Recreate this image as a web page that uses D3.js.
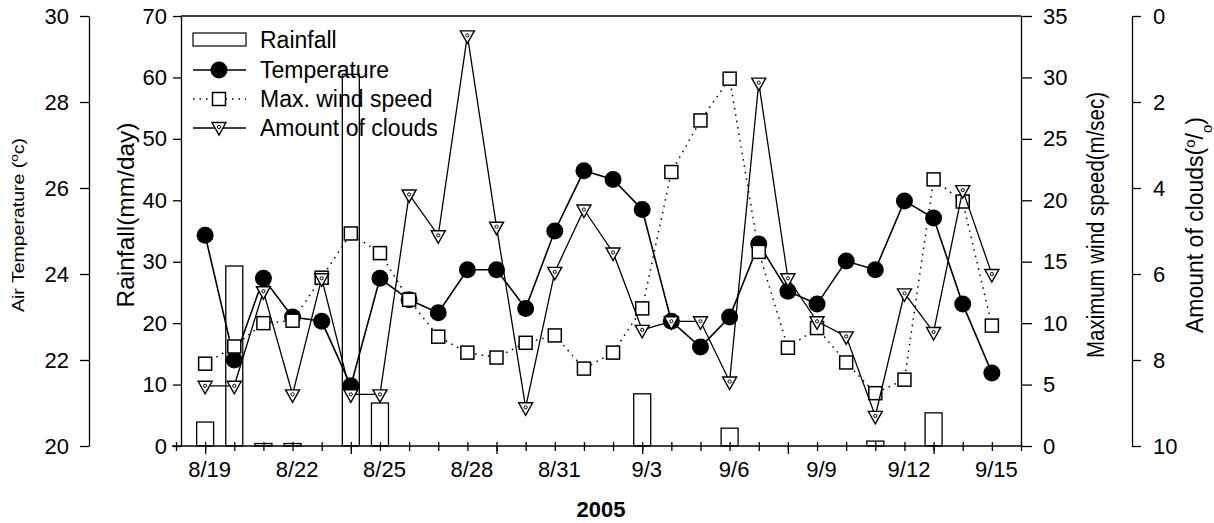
<!DOCTYPE html>
<html>
<head>
<meta charset="utf-8">
<script src="https://d3js.org/d3.v7.min.js"></script>
<style>
  body { margin: 0; background: #fff; }
  svg { font-family: "Liberation Sans", Arial, sans-serif; }
  .axis path, .axis line { stroke: #000; stroke-width: 1.3; }
  .axis text { fill: #000; font-size: 22px; font-family: "Liberation Sans", Arial, sans-serif; }
</style>
</head>
<body>
<svg width="1214" height="523"></svg>
<script>
var dates = ["8/19","8/20","8/21","8/22","8/23","8/24","8/25","8/26","8/27","8/28","8/29","8/30","8/31",
             "9/1","9/2","9/3","9/4","9/5","9/6","9/7","9/8","9/9","9/10","9/11","9/12","9/13","9/14","9/15"];

var rainfall = [3.9, 29.3, 0.4, 0.4, 0, 60.5, 7.0, 0, 0, 0, 0, 0, 0, 0,
                0, 8.5, 0, 0, 2.9, 0, 0, 0, 0, 0.8, 0, 5.4, 0, 0];

var temperature = [24.9, 22.0, 23.9, 23.0, 22.9, 21.4, 23.9, 23.4, 23.1, 24.1, 24.1, 23.2, 25.0, 26.4,
                   26.2, 25.5, 22.9, 22.3, 23.0, 24.7, 23.6, 23.3, 24.3, 24.1, 25.7, 25.3, 23.3, 21.7];

var windSpeed = [6.7, 8.1, 10.0, 10.2, 13.7, 17.3, 15.7, 11.9, 8.9, 7.6, 7.2, 8.4, 9.0, 6.3,
                 7.6, 11.2, 22.3, 26.5, 29.9, 15.8, 8.0, 9.6, 6.8, 4.3, 5.4, 21.7, 19.9, 9.8];

var clouds = [8.6, 8.6, 6.4, 8.8, 6.1, 8.8, 8.8, 4.15, 5.1, 0.45, 4.9, 9.1, 5.95, 4.5,
              5.5, 7.3, 7.1, 7.1, 8.5, 1.55, 6.1, 7.1, 7.45, 9.3, 6.45, 7.35, 4.05, 6.0];

var dateLabels = ["8/19","8/22","8/25","8/28","8/31","9/3","9/6","9/9","9/12","9/15"];
var majorDates = ["8/19","8/24","8/29","9/3","9/8","9/13"];

var rainTicks = [0, 10, 20, 30, 40, 50, 60, 70];
var tempTicks = [20, 22, 24, 26, 28, 30];
var windTicks = [0, 5, 10, 15, 20, 25, 30, 35];
var cloudTicks = [0, 2, 4, 6, 8, 10];

var legendItems = ["Rainfall", "Temperature", "Max. wind speed", "Amount of clouds"];

var svg = d3.select("svg"),
    plotLeft = 181, plotRight = 1021, plotTop = 16, plotBottom = 446;

var data = dates.map(function(d, i) {
  return {date: d, i: i, rain: rainfall[i], temp: temperature[i], wind: windSpeed[i], cloud: clouds[i]};
});

var x = d3.scaleLinear().domain([-1, 28]).range([176, plotRight]);
var yRain = d3.scaleLinear().domain([0, 70]).range([plotBottom, plotTop]);
var yTemp = d3.scaleLinear().domain([20, 30]).range([plotBottom, plotTop]);
var yWind = d3.scaleLinear().domain([0, 35]).range([plotBottom, plotTop]);
var yCloud = d3.scaleLinear().domain([0, 10]).range([plotTop, plotBottom]);

function idx(d) { return dates.indexOf(d); }

// frame top
svg.append("line")
  .attr("x1", plotLeft).attr("x2", plotRight)
  .attr("y1", plotTop).attr("y2", plotTop)
  .attr("stroke", "#000").attr("stroke-width", 1.3);

// x axis: line, minor ticks (crossing), major ticks (down), labels
svg.append("line")
  .attr("x1", 172).attr("x2", plotRight)
  .attr("y1", plotBottom).attr("y2", plotBottom)
  .attr("stroke", "#000").attr("stroke-width", 1.3);

svg.append("g")
  .attr("class", "axis")
  .attr("transform", "translate(0," + (plotBottom - 4) + ")")
  .call(d3.axisBottom(x).tickValues(d3.range(-1, 29)).tickSize(9).tickFormat(""))
  .call(function(g) { g.select(".domain").remove(); });

svg.append("g")
  .attr("class", "axis")
  .attr("transform", "translate(0," + plotBottom + ")")
  .call(d3.axisBottom(x).tickValues(majorDates.map(idx)).tickSize(8).tickFormat(""))
  .call(function(g) { g.select(".domain").remove(); });

// date labels sit a little right of their day in the original
svg.append("g")
  .attr("class", "axis")
  .attr("transform", "translate(4," + plotBottom + ")")
  .call(d3.axisBottom(x).tickValues(dateLabels.map(idx)).tickSize(0).tickPadding(15)
    .tickFormat(function(i) { return dates[i]; }))
  .call(function(g) { g.select(".domain").remove(); });

svg.append("text")
  .attr("x", 601).attr("y", 517)
  .attr("text-anchor", "middle")
  .style("font-size", "22px").style("font-weight", "bold")
  .text("2005");

// y axes
svg.append("g")
  .attr("class", "axis")
  .attr("transform", "translate(" + plotLeft + ",0)")
  .call(d3.axisLeft(yRain).tickValues(rainTicks).tickSize(8).tickSizeOuter(0).tickPadding(6));

svg.append("g")
  .attr("class", "axis")
  .attr("transform", "translate(89,0)")
  .call(d3.axisLeft(yTemp).tickValues(tempTicks).tickSize(9).tickSizeOuter(0).tickPadding(11));

svg.append("g")
  .attr("class", "axis")
  .attr("transform", "translate(" + plotRight + ",0)")
  .call(d3.axisRight(yWind).tickValues(windTicks).tickSize(11).tickSizeOuter(0).tickPadding(11));

svg.append("g")
  .attr("class", "axis")
  .attr("transform", "translate(1132,0)")
  .call(d3.axisRight(yCloud).tickValues(cloudTicks).tickSize(9).tickSizeOuter(0).tickPadding(12));

// axis titles (rotated)
function vTitle(xb, yc, size, len) {
  return svg.append("text")
    .attr("transform", "translate(" + xb + "," + yc + ") rotate(-90)")
    .attr("text-anchor", "middle")
    .attr("textLength", len)
    .attr("lengthAdjust", "spacingAndGlyphs")
    .style("font-size", size + "px");
}

var t1 = vTitle(24, 225, 16, 174);
t1.append("tspan").text("Air Temperature (");
t1.append("tspan").attr("baseline-shift", "super").style("font-size", "11px").text("o");
t1.append("tspan").text("c)");

vTitle(134, 215, 24, 185).text("Rainfall(mm/day)");
vTitle(1104, 225, 23, 266).text("Maximum wind speed(m/sec)");

var t4 = vTitle(1203, 225, 23, 216);
t4.append("tspan").text("Amount of clouds(");
t4.append("tspan").attr("baseline-shift", "super").style("font-size", "15px").text("o");
t4.append("tspan").text("/");
t4.append("tspan").attr("baseline-shift", "sub").style("font-size", "15px").text("o");
t4.append("tspan").text(")");

// markers
function triangle(sel) {
  sel.append("path")
    .attr("d", "M-7,-4.5L7,-4.5L0,8Z")
    .attr("fill", "#fff").attr("stroke", "#000").attr("stroke-width", 1.4);
  sel.append("circle")
    .attr("r", 1.6).attr("fill", "#fff").attr("stroke", "#000").attr("stroke-width", 1);
}
function square(sel) {
  sel.append("rect")
    .attr("x", -6.5).attr("y", -6.5).attr("width", 13).attr("height", 13)
    .attr("fill", "#fff").attr("stroke", "#000").attr("stroke-width", 1.5);
}

// legend
var ly = [40, 70, 99, 128];
var legend = svg.append("g");
legend.append("rect")
  .attr("x", 193).attr("y", 33).attr("width", 53).attr("height", 13)
  .attr("fill", "none").attr("stroke", "#000").attr("stroke-width", 1.2);
legend.append("line")
  .attr("x1", 193).attr("x2", 246).attr("y1", ly[1]).attr("y2", ly[1])
  .attr("stroke", "#000").attr("stroke-width", 1.6);
legend.append("circle").attr("cx", 219).attr("cy", ly[1]).attr("r", 8.5).attr("fill", "#000");
legend.append("line")
  .attr("x1", 193).attr("x2", 246).attr("y1", ly[2]).attr("y2", ly[2])
  .attr("stroke", "#000").attr("stroke-width", 1.5).attr("stroke-dasharray", "1.5,5");
legend.append("g").attr("transform", "translate(219," + ly[2] + ")").call(square);
legend.append("line")
  .attr("x1", 193).attr("x2", 246).attr("y1", ly[3]).attr("y2", ly[3])
  .attr("stroke", "#000").attr("stroke-width", 1.3);
legend.append("g").attr("transform", "translate(219," + (ly[3] - 1) + ")").call(triangle);
legend.selectAll(".ltext")
  .data(legendItems)
  .enter().append("text")
    .attr("x", 260)
    .attr("y", function(d, i) { return ly[i] + 8; })
    .style("font-size", "23px")
    .text(function(d) { return d; });

// rainfall bars
svg.append("g").selectAll("rect")
  .data(data.filter(function(d) { return d.rain > 0; }))
  .enter().append("rect")
    .attr("x", function(d) { return x(d.i) - 8.5; })
    .attr("width", 17)
    .attr("y", function(d) { return yRain(d.rain); })
    .attr("height", function(d) { return plotBottom - yRain(d.rain); })
    .attr("fill", "none")
    .attr("stroke", "#000")
    .attr("stroke-width", 1.3);

// temperature
svg.append("path")
  .datum(data)
  .attr("fill", "none").attr("stroke", "#000").attr("stroke-width", 1.6)
  .attr("d", d3.line().x(function(d) { return x(d.i); }).y(function(d) { return yTemp(d.temp); }));
svg.append("g").selectAll("circle")
  .data(data)
  .enter().append("circle")
    .attr("cx", function(d) { return x(d.i); })
    .attr("cy", function(d) { return yTemp(d.temp); })
    .attr("r", 8.5)
    .attr("fill", "#000");

// wind speed
svg.append("path")
  .datum(data)
  .attr("fill", "none").attr("stroke", "#000").attr("stroke-width", 1.5)
  .attr("stroke-dasharray", "1.5,5")
  .attr("d", d3.line().x(function(d) { return x(d.i); }).y(function(d) { return yWind(d.wind); }));
svg.append("g").selectAll("g")
  .data(data)
  .enter().append("g")
    .attr("transform", function(d) { return "translate(" + x(d.i) + "," + yWind(d.wind) + ")"; })
    .call(square);

// clouds
svg.append("path")
  .datum(data)
  .attr("fill", "none").attr("stroke", "#000").attr("stroke-width", 1.3)
  .attr("d", d3.line().x(function(d) { return x(d.i); }).y(function(d) { return yCloud(d.cloud); }));
svg.append("g").selectAll("g")
  .data(data)
  .enter().append("g")
    .attr("transform", function(d) { return "translate(" + x(d.i) + "," + yCloud(d.cloud) + ")"; })
    .call(triangle);
</script>
</body>
</html>
